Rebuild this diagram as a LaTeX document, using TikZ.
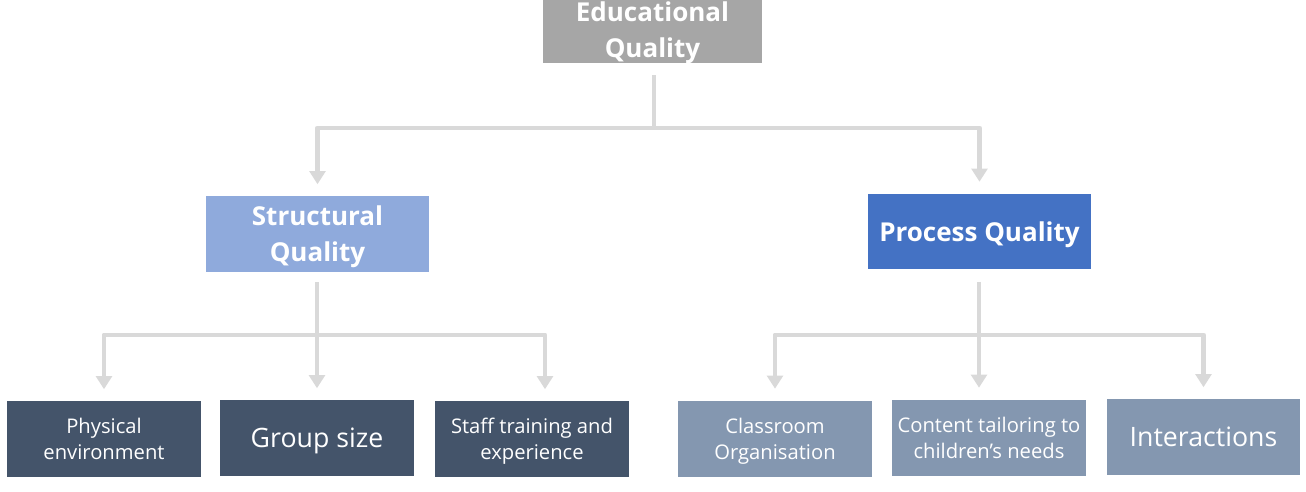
\documentclass[tikz,border=0pt]{standalone}
\usepackage{fontspec}
\setmainfont{Open Sans}
\usetikzlibrary{arrows.meta,positioning,calc}
\tikzset{%
  qbox/.style={rectangle,inner sep=0pt,align=center,text=white,text depth=0pt},
  headbox/.style={qbox,minimum width=4.46cm,minimum height=1.52cm,font=\bfseries\fontsize{14.8}{20.6}\selectfont},
  leafbox/.style={qbox,minimum width=3.88cm,minimum height=1.52cm,font=\fontsize{11.5}{14.7}\selectfont},
  bigleaf/.style={leafbox,font=\fontsize{15.2}{18}\selectfont},
  link/.style={draw=qline,line width=2.8pt,line join=round},
  qarrow/.style={link,-{Triangle[width=9pt,length=7.5pt]},shorten >=6.5pt}
}

\begin{document}
\begin{tikzpicture}[x=0.02cm,y=-0.02cm]
% ---- colors ----
\definecolor{qtop}{HTML}{A6A6A6}     % educational quality grey
\definecolor{qstruct}{HTML}{8FAADC}  % structural quality light blue
\definecolor{qproc}{HTML}{4472C4}    % process quality blue
\definecolor{qdark}{HTML}{44546A}    % structural leaves
\definecolor{qslate}{HTML}{8497B0}   % process leaves
\definecolor{qline}{HTML}{D9D9D9}    % connectors

% canvas (pixel units)
\useasboundingbox (0,0) rectangle (1306,491);

% ===================== top level =====================
\node[qbox,fill=qtop,minimum width=4.38cm,minimum height=1.32cm,
      font=\bfseries\fontsize{14.8}{20.6}\selectfont] (eq) at (652.5,30) {Educational\\Quality};

% ===================== second level =====================
\node[headbox,fill=qstruct] (sq) at (317.5,234)   {Structural\\Quality};
\node[headbox,fill=qproc]   (pq) at (979.5,231.5) {Process Quality};

% ===================== leaves =====================
\node[leafbox,fill=qdark] (pe) at (104,439)   {Physical\\environment};
\node[bigleaf,fill=qdark] (gs) at (317,438)   {Group size};
\node[leafbox,fill=qdark] (st) at (532,439)   {Staff training and\\experience};

\node[leafbox,fill=qslate] (cr) at (775,438.5) {Classroom\\Organisation};
\node[leafbox,fill=qslate] (ct) at (989,437.5) {Content tailoring to\\children's needs};
\node[bigleaf,fill=qslate] (ia) at (1203.5,437) {Interactions};

% ---- junctions ----
\coordinate (jeq) at (654,128);
\coordinate (jsq) at (317,335);
\coordinate (jpq) at (979,335);

% ---- connectors ----
\draw[link,shorten <=6.8pt] (eq.south -| jeq) -- (jeq);
\draw[qarrow] (jeq) -| (sq.north);
\draw[qarrow] (jeq) -| (pq.north);

\draw[link,shorten <=5.7pt] (sq.south -| jsq) -- (jsq);
\draw[qarrow] (jsq) -| (pe.north);
\draw[qarrow] (jsq) -- (jsq |- gs.north);
\draw[qarrow] (jsq) -| ([xshift=0.26cm]st.north);

\draw[link,shorten <=6.8pt] (pq.south -| jpq) -- (jpq);
\draw[qarrow] (jpq) -| (cr.north);
\draw[qarrow] (jpq) -- (jpq |- ct.north);
\draw[qarrow] (jpq) -| (ia.north);

\end{tikzpicture}
\end{document}
